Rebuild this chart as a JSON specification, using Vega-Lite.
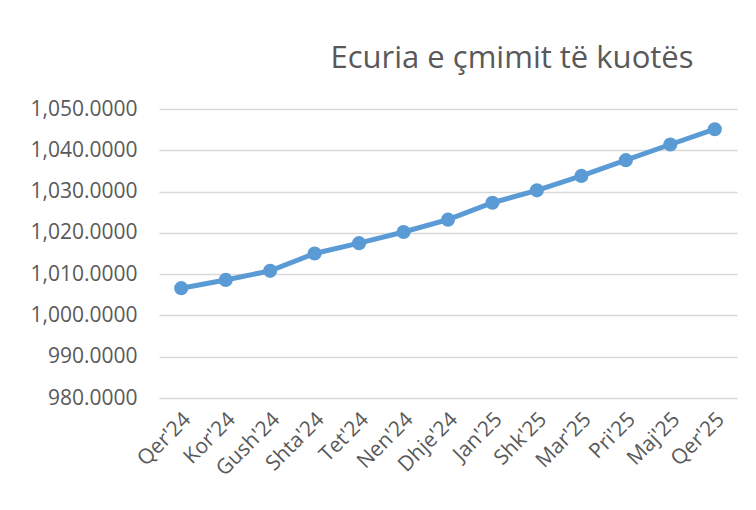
{
  "$schema": "https://vega.github.io/schema/vega-lite/v6.json",
  "width": 578,
  "height": 289,
  "autosize": {"type": "none"},
  "padding": {"left": 159, "top": 109, "right": 19, "bottom": 112},
  "background": "white",
  "title": {
    "text": "Ecuria e çmimit të kuotës",
    "font": "Open Sans",
    "fontSize": 31,
    "fontWeight": "normal",
    "color": "#595959",
    "anchor": "middle",
    "dx": 64,
    "offset": 23
  },
  "data": {
    "values": [
      {"muaji": "Qer'24", "cmimi": 1006.6},
      {"muaji": "Kor'24", "cmimi": 1008.6},
      {"muaji": "Gush'24", "cmimi": 1010.8},
      {"muaji": "Shta'24", "cmimi": 1015.0},
      {"muaji": "Tet'24", "cmimi": 1017.5},
      {"muaji": "Nen'24", "cmimi": 1020.2},
      {"muaji": "Dhje'24", "cmimi": 1023.2},
      {"muaji": "Jan'25", "cmimi": 1027.3},
      {"muaji": "Shk'25", "cmimi": 1030.3},
      {"muaji": "Mar'25", "cmimi": 1033.8},
      {"muaji": "Pri'25", "cmimi": 1037.6},
      {"muaji": "Maj'25", "cmimi": 1041.4},
      {"muaji": "Qer'25", "cmimi": 1045.1}
    ]
  },
  "encoding": {
    "x": {
      "field": "muaji",
      "type": "ordinal",
      "sort": null,
      "scale": {"type": "point", "padding": 0.5},
      "axis": {
        "title": null,
        "labelAngle": -45,
        "labelAlign": "right",
        "labelBaseline": "middle",
        "labelFont": "Open Sans",
        "labelFontSize": 21,
        "labelColor": "#595959",
        "labelPadding": 18,
        "labelOffset": 6,
        "ticks": false,
        "tickSize": 0,
        "domain": false,
        "grid": false
      }
    },
    "y": {
      "field": "cmimi",
      "type": "quantitative",
      "scale": {"domain": [980, 1050], "nice": false, "zero": false},
      "axis": {
        "title": null,
        "values": [980, 990, 1000, 1010, 1020, 1030, 1040, 1050],
        "format": ",.4f",
        "labelFont": "Open Sans",
        "labelFontSize": 21,
        "labelColor": "#595959",
        "labelPadding": 22,
        "ticks": false,
        "tickSize": 0,
        "domain": false,
        "grid": true,
        "gridColor": "#D9D9D9",
        "gridWidth": 1.5
      }
    }
  },
  "layer": [
    {"mark": {"type": "line", "color": "#5B9BD5", "strokeWidth": 5}},
    {"mark": {"type": "point", "filled": true, "color": "#5B9BD5", "opacity": 1, "size": 200}}
  ],
  "config": {"view": {"stroke": null}}
}
